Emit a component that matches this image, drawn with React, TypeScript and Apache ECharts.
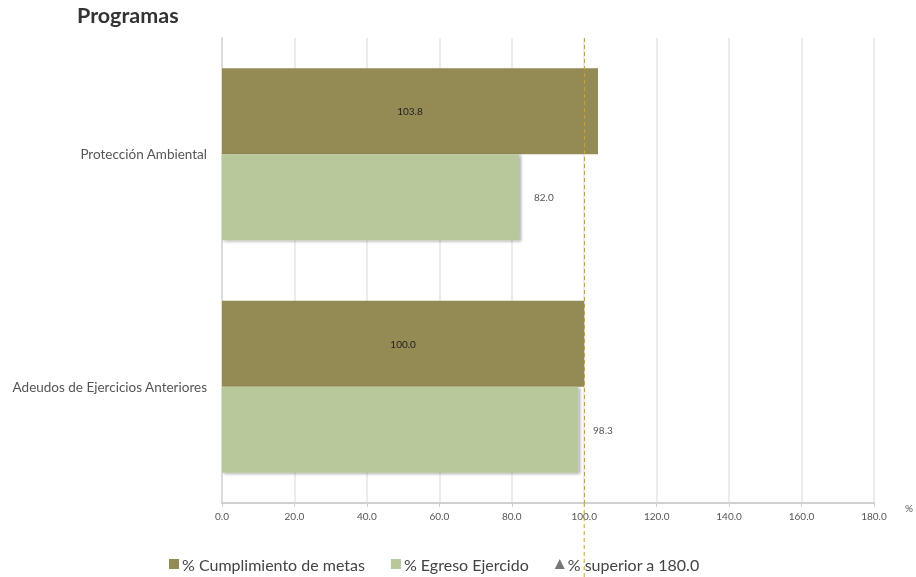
import React, { useEffect, useRef } from "react";
import * as echarts from "echarts";

const categories = ["Protección Ambiental", "Adeudos de Ejercicios Anteriores"];
const cumplimiento = [103.8, 100.0];
const egreso = [82.0, 98.3];
const xTicks = { min: 0, max: 180, interval: 20 };
const referenceValue = 100;
const legendNames = ["% Cumplimiento de metas", "% Egreso Ejercido", "% superior a 180.0"];

export default function App() {
  const ref = useRef<HTMLDivElement>(null);
  useEffect(() => {
    if (!ref.current) return;
    const chart = echarts.init(ref.current, undefined, { renderer: "svg" });
    const font = "Lato, 'Noto Sans', sans-serif";
    chart.setOption({
      animation: false,
      textStyle: { fontFamily: font },
      title: {
        text: "Programas",
        left: 72,
        top: -1,
        textStyle: { fontSize: 21.5, fontWeight: "bold", color: "#333", fontFamily: font },
      },
      grid: { left: 222, right: 42, top: 38, bottom: 74 },
      legend: {
        left: 164,
        bottom: 0,
        itemWidth: 10,
        itemHeight: 10,
        itemGap: 26,
        textStyle: { fontSize: 16, color: "#444", fontFamily: font, padding: [0, 0, 0, -2] },
        data: [
          { name: legendNames[0], icon: "rect" },
          { name: legendNames[1], icon: "rect" },
          { name: legendNames[2], icon: "triangle", itemStyle: { color: "#555" } },
        ],
      },
      xAxis: {
        type: "value",
        min: xTicks.min,
        max: xTicks.max,
        interval: xTicks.interval,
        name: "%",
        nameLocation: "end",
        nameGap: 31,
        nameTextStyle: { fontSize: 10, color: "#555", verticalAlign: "top" },
        axisLine: { show: true, lineStyle: { color: "#d0d0d0", width: 2 } },
        axisTick: { show: true, length: 4, lineStyle: { color: "#d0d0d0" } },
        axisLabel: {
          color: "#555",
          fontSize: 10,
          margin: 8,
          formatter: (v: number) => v.toFixed(1),
        },
        splitLine: { show: true, lineStyle: { color: "#ececec", width: 2 } },
      },
      yAxis: {
        type: "category",
        inverse: true,
        data: categories,
        axisLine: { show: true, lineStyle: { color: "#dcdcdc", width: 2 } },
        axisTick: { show: false },
        axisLabel: { color: "#555", fontSize: 13.5, margin: 15 },
      },
      series: [
        {
          name: legendNames[0],
          type: "bar",
          data: cumplimiento,
          barGap: "0%",
          barCategoryGap: "26%",
          itemStyle: { color: "#938A54" },
          label: {
            show: true,
            position: "inside",
            color: "#222",
            fontSize: 10,
            formatter: (p: any) => Number(p.value).toFixed(1),
          },
          markLine: {
            silent: true,
            symbol: "none",
            label: { show: false },
            z: 10,
            lineStyle: { color: "#D4A017", type: [4, 3], width: 1, opacity: 1 },
            emphasis: { disabled: true },
            data: [{ xAxis: referenceValue }],
          },
        },
        {
          name: legendNames[1],
          type: "bar",
          data: egreso,
          itemStyle: {
            color: "#B7C99B",
            shadowColor: "rgba(0,0,0,0.35)",
            shadowBlur: 3,
            shadowOffsetX: 2,
            shadowOffsetY: 1,
          },
          label: {
            show: true,
            position: "right",
            distance: 15,
            color: "#555",
            fontSize: 10,
            formatter: (p: any) => Number(p.value).toFixed(1),
          },
        },
        {
          name: legendNames[2],
          type: "scatter",
          data: [],
          itemStyle: { color: "#555" },
        },
      ],
    });
    const px = chart.convertToPixel({ xAxisIndex: 0 }, referenceValue) as number;
    chart.setOption({
      graphic: [
        {
          type: "line",
          silent: true,
          shape: { x1: px, y1: 503, x2: px, y2: 577 },
          style: { stroke: "#D4A017", lineDash: [4, 3], lineWidth: 1 },
          z: 100,
        },
      ],
    });
    return () => chart.dispose();
  }, []);
  return (
    <div
      ref={ref}
      style={{ position: "fixed", left: 0, top: 0, width: 916, height: 577 }}
    />
  );
}
